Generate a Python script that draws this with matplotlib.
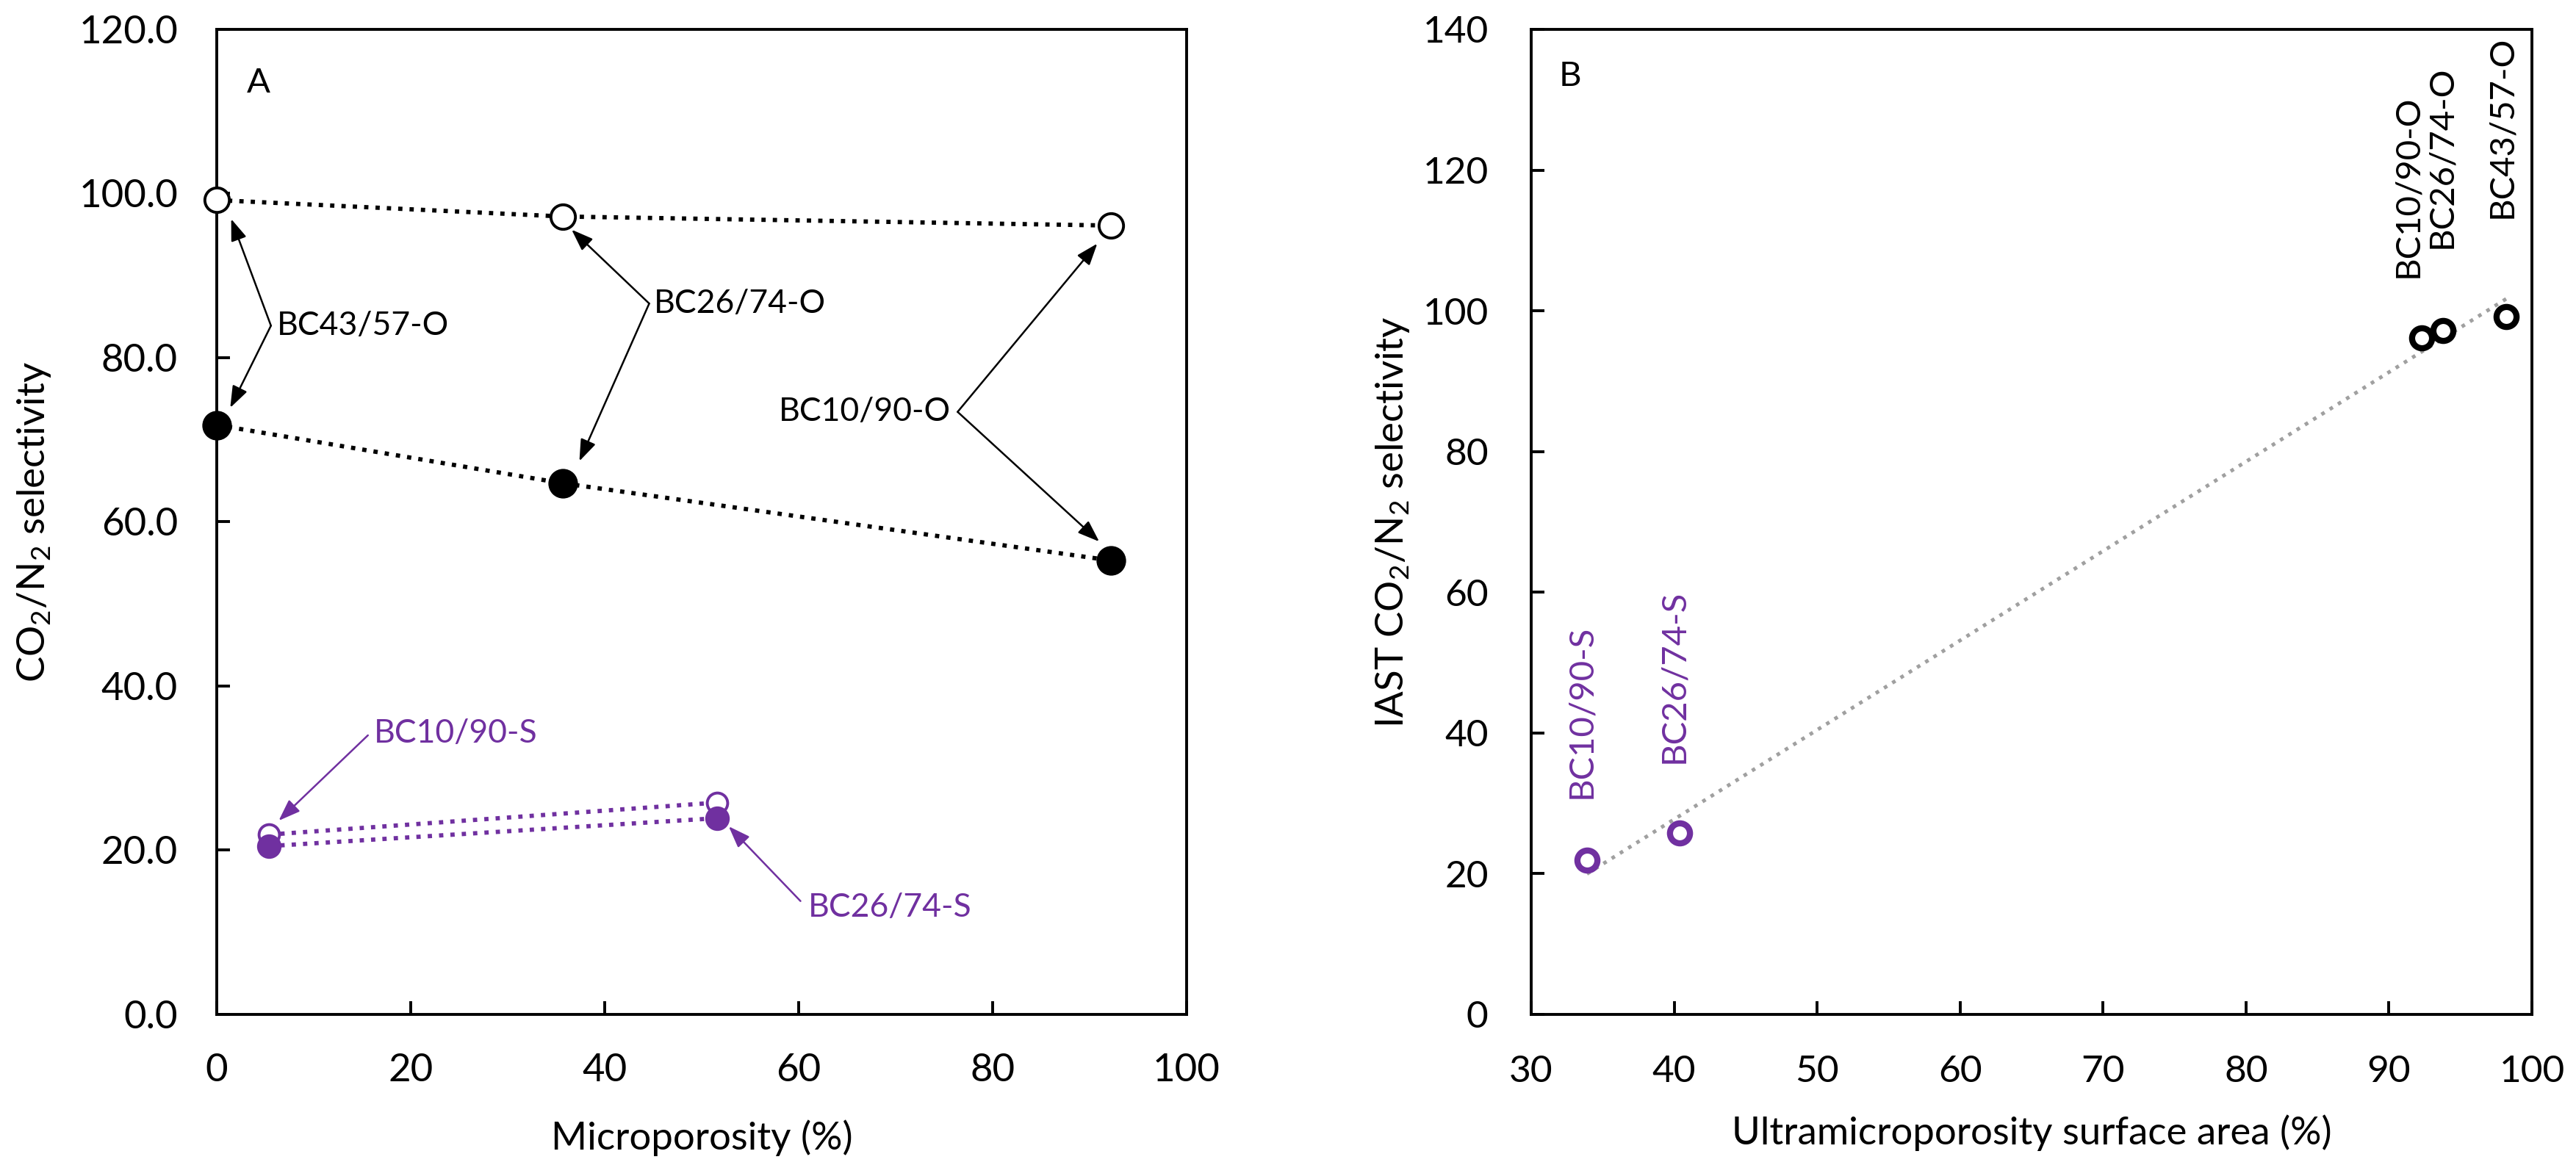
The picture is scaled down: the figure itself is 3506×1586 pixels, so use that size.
import numpy as np
import matplotlib
matplotlib.use('Agg')
import matplotlib.pyplot as plt

plt.rcParams['font.family'] = ['Lato', 'DejaVu Sans']
plt.rcParams['mathtext.default'] = 'regular'

purple = '#7030A0'

# Panel A data: selectivity vs microporosity
micro_o = [0.0, 35.7, 92.2]          # BC43/57-O, BC26/74-O, BC10/90-O
sel_open_o = [99.2, 97.2, 96.1]
sel_fill_o = [71.8, 64.7, 55.3]
micro_s = [5.4, 51.6]                # BC10/90-S, BC26/74-S
sel_open_s = [21.9, 25.8]
sel_fill_s = [20.5, 23.9]

# Panel B data: IAST selectivity vs ultramicroporosity surface area
ultra_s = [33.9, 40.4]               # BC10/90-S, BC26/74-S
iast_s = [21.9, 25.8]
ultra_o = [92.3, 93.8, 98.2]         # BC10/90-O, BC26/74-O, BC43/57-O
iast_o = [96.1, 97.2, 99.2]
labels_s = ['BC10/90-S', 'BC26/74-S']
labels_o = ['BC10/90-O', 'BC26/74-O', 'BC43/57-O']

fig = plt.figure(figsize=(17.53, 7.93), dpi=200)
axA = fig.add_axes([0.0841, 0.1293, 0.3765, 0.8455])
axB = fig.add_axes([0.5944, 0.1293, 0.3885, 0.8455])

for ax in (axA, axB):
    for sp in ax.spines.values():
        sp.set_linewidth(1.4)
    ax.tick_params(direction='in', length=6.5, width=1.4, top=False, right=False)

# ---- Panel A ----
axA.plot(micro_o, sel_open_o, ':', color='black', lw=2.1, marker='o', ms=12,
         mfc='white', mec='black', mew=1.4, clip_on=False, zorder=3)
axA.plot(micro_o, sel_fill_o, ':', color='black', lw=2.1, marker='o', ms=13.5,
         mfc='black', mec='black', clip_on=False, zorder=3)
axA.plot(micro_s, sel_open_s, ':', color=purple, lw=2.1, marker='o', ms=10,
         mfc='white', mec=purple, mew=1.4, clip_on=False, zorder=3)
axA.plot(micro_s, sel_fill_s, ':', color=purple, lw=2.1, marker='o', ms=11,
         mfc=purple, mec=purple, clip_on=False, zorder=4)

axA.set_xlim(0, 100)
axA.set_ylim(0, 120)
axA.set_xticks(np.arange(0, 101, 20))
axA.set_yticks(np.arange(0, 121, 20))
axA.set_yticklabels([f'{v:.1f}' for v in np.arange(0, 121, 20)])
axA.tick_params(axis='x', pad=19, labelsize=19)
axA.tick_params(axis='y', pad=19, labelsize=19)
axA.set_xlabel('Microporosity (%)', fontsize=19)
axA.set_ylabel('CO$_2$/N$_2$ selectivity', fontsize=19)
axA.xaxis.set_label_coords(0.5, -0.107)
axA.yaxis.set_label_coords(-0.169, 0.5)
axA.text(4.35, 113.5, 'A', fontsize=17, ha='center', va='center')

arrow_kw = dict(arrowstyle='-|>,head_length=0.9,head_width=0.33', lw=0.9,
                shrinkA=0, shrinkB=0, mutation_scale=10)


def fork(ax, text, vertex, tips, tx, ha, color):
    ax.text(tx, vertex[1], text, fontsize=16, ha=ha, va='center', color=color)
    for tip in tips:
        ax.annotate('', xy=tip, xytext=vertex,
                    arrowprops=dict(color=color, **arrow_kw))


fork(axA, 'BC43/57-O', (5.6, 83.9), [(1.5, 96.9), (1.4, 73.9)], 6.2, 'left', 'black')
fork(axA, 'BC26/74-O', (44.6, 86.6), [(36.6, 95.6), (37.4, 67.4)], 45.1, 'left', 'black')
fork(axA, 'BC10/90-O', (76.4, 73.4), [(90.8, 93.9), (91.0, 57.6)], 75.7, 'right', 'black')

axA.text(16.2, 34.2, 'BC10/90-S', fontsize=16, ha='left', va='center', color=purple)
axA.annotate('', xy=(6.4, 23.6), xytext=(15.6, 34.0),
             arrowprops=dict(color=purple, **arrow_kw))
axA.text(61.0, 13.0, 'BC26/74-S', fontsize=16, ha='left', va='center', color=purple)
axA.annotate('', xy=(52.8, 22.9), xytext=(60.2, 13.8),
             arrowprops=dict(color=purple, **arrow_kw))

# ---- Panel B ----
all_x = np.array(ultra_s + ultra_o)
all_y = np.array(iast_s + iast_o)
slope, icpt = np.polyfit(all_x, all_y, 1)
fit_x = np.array([all_x.min(), all_x.max()])
axB.plot(fit_x, slope * fit_x + icpt, ':', color='#A0A0A0', lw=1.8, zorder=2)

axB.plot(ultra_s, iast_s, 'o', ms=9.8, mfc='white', mec=purple, mew=3, zorder=3)
axB.plot(ultra_o, iast_o, 'o', ms=9.8, mfc='white', mec='black', mew=3, zorder=3)

for x, y, lab in zip(ultra_s, [30.7, 35.7], labels_s):
    axB.text(x - 0.4, y, lab, rotation=90, fontsize=17, ha='center', va='bottom',
             color=purple)
for x, y, lab in zip([91.3, 93.7, 97.9], [104.7, 108.9, 113.2], labels_o):
    axB.text(x, y, lab, rotation=90, fontsize=17, ha='center', va='bottom',
             color='black')

axB.set_xlim(30, 100)
axB.set_ylim(0, 140)
axB.set_xticks(np.arange(30, 101, 10))
axB.set_yticks(np.arange(0, 141, 20))
axB.tick_params(axis='x', pad=20, labelsize=18.5)
axB.tick_params(axis='y', pad=21, labelsize=18.5)
axB.set_xlabel('Ultramicroporosity surface area (%)', fontsize=19)
axB.set_ylabel('IAST CO$_2$/N$_2$ selectivity', fontsize=19)
axB.xaxis.set_label_coords(0.5, -0.102)
axB.yaxis.set_label_coords(-0.120, 0.5)
axB.text(32.7, 133.3, 'B', fontsize=17, ha='center', va='center')

fig.savefig('out.png', dpi=200)
plt.close(fig)
